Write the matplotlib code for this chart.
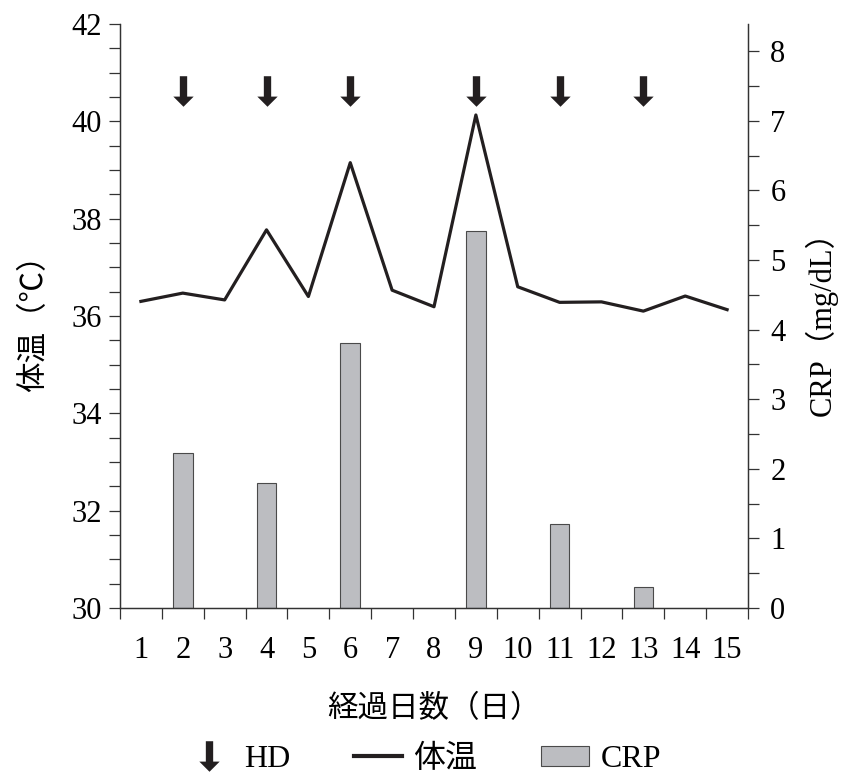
import numpy as np
import matplotlib
matplotlib.use("Agg")
import matplotlib.pyplot as plt
from matplotlib.path import Path
from matplotlib.lines import Line2D
from matplotlib.patches import Patch
from matplotlib.ticker import MultipleLocator

plt.rcParams['font.family'] = ['Liberation Serif', 'Noto Sans CJK JP', 'DejaVu Sans']

# データ
days = list(range(1, 16))
day_labels = [str(d) for d in days]
temp = [36.3, 36.47, 36.33, 37.77, 36.4, 39.15, 36.53, 36.19, 40.13,
        36.6, 36.28, 36.29, 36.1, 36.41, 36.13]
crp_days = [2, 4, 6, 9, 11, 13]
crp = [2.22, 1.8, 3.8, 5.42, 1.2, 0.3]
hd_days = [2, 4, 6, 9, 11, 13]
hd_level = 40.62

ink = '#231f20'
bar_col = '#bcbdc1'
fs = 22

# 矢印マーカー
arrow = Path([(-0.12, 0.5), (0.12, 0.5), (0.12, -0.167), (0.333, -0.167),
              (0, -0.5), (-0.333, -0.167), (-0.12, -0.167), (-0.12, 0.5)],
             closed=True)

fig = plt.figure(figsize=(8.46, 7.78), dpi=100)
ax = fig.add_axes([0.1418, 0.2185, 0.7424, 0.7507])
ax2 = ax.twinx()

ax2.bar(crp_days, crp, width=0.47, color=bar_col, edgecolor='#4a4a4a', linewidth=0.8, zorder=2)
ax.plot(days, temp, color=ink, lw=2.3, zorder=3)
ax.scatter(hd_days, [hd_level] * len(hd_days), marker=arrow, s=22 ** 2, color=ink,
           linewidths=0, zorder=4)

ax.set_zorder(ax2.get_zorder() + 1)
ax.patch.set_visible(False)

ax.set_xlim(0.5, 15.5)
ax.set_ylim(30, 42)
ax2.set_ylim(0, 8.39)

ax.yaxis.set_major_locator(MultipleLocator(2))
ax.yaxis.set_minor_locator(MultipleLocator(0.5))
ax2.yaxis.set_major_locator(MultipleLocator(1))
ax2.yaxis.set_minor_locator(MultipleLocator(0.5))

ax.set_xticks(days)
ax.set_xticklabels(day_labels)
ax.set_xticks(np.arange(0.5, 16, 1), minor=True)
ax.tick_params(axis='x', which='major', length=0, pad=20, labelsize=fs)
ax.tick_params(axis='x', which='minor', length=8, width=0.9, color='#333333')
ax.tick_params(axis='y', which='both', length=8, width=0.9, color='#333333',
               labelsize=fs, pad=5)
ax2.tick_params(axis='y', which='both', length=8, width=0.9, color='#333333',
                labelsize=fs, pad=8)

for a in (ax, ax2):
    a.spines['top'].set_visible(False)
    for s in ('left', 'right', 'bottom'):
        a.spines[s].set_color('#333333')
        a.spines[s].set_linewidth(0.9)

ax.set_ylabel('体温（℃）', fontsize=fs, labelpad=16)
ax2.set_ylabel('CRP（mg/dL）', fontsize=fs, labelpad=14)
ax.set_xlabel('経過日数（日）', fontsize=fs, labelpad=22)

handles = [Line2D([], [], ls='none', marker=arrow, ms=22, color=ink, mew=0),
           Line2D([], [], color=ink, lw=3),
           Patch(facecolor=bar_col, edgecolor='#4a4a4a', linewidth=0.8)]
fig.legend(handles, ['HD', '体温', 'CRP'], loc='center', bbox_to_anchor=(0.5, 0.024),
           ncol=3, frameon=False, fontsize=23, handlelength=1.5, handleheight=0.6,
           handletextpad=0.35, columnspacing=2.0)

fig.savefig('out.png', dpi=100)
